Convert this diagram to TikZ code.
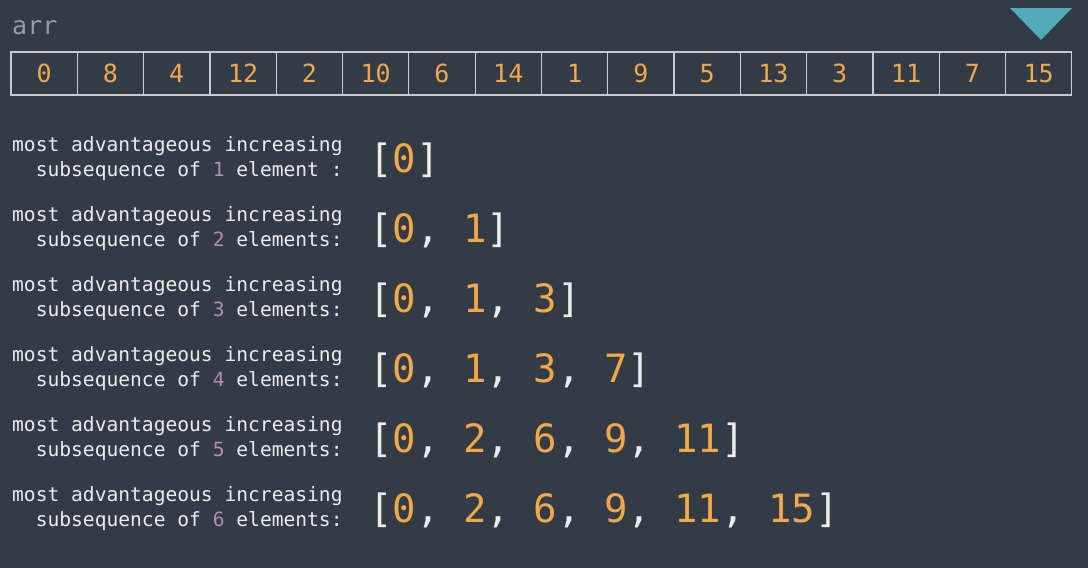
\documentclass[tikz,border=0pt]{standalone}
\usepackage{fontspec}
\setmonofont{DejaVu Sans Mono}
\usetikzlibrary{positioning}
\definecolor{bgslate}{RGB}{51,59,70}
\definecolor{numorange}{RGB}{240,168,72}
\definecolor{idxpurple}{RGB}{180,140,180}
\definecolor{textwhite}{RGB}{236,236,236}
\definecolor{cellgrey}{RGB}{200,202,208}
\definecolor{namegrey}{RGB}{150,156,166}
\definecolor{markteal}{RGB}{80,170,185}
\newcommand{\hl}[1]{\textcolor{idxpurple}{#1}}
\newcommand{\nm}[1]{\textcolor{numorange}{#1}}
\begin{document}
\begin{tikzpicture}[
  x=1pt, y=-1pt,
  cell/.style={draw=cellgrey, line width=1.2pt, minimum width=66.3pt, minimum height=43pt, inner sep=0pt, outer sep=0pt, text=numorange, font=\ttfamily\fontsize{25}{30}\selectfont},
  rowlabel/.style={anchor=base west, inner sep=0pt, align=right, text=textwhite, font=\ttfamily\fontsize{19.6}{25}\selectfont},
  seq/.style={anchor=base west, inner sep=0pt, text=textwhite, font=\ttfamily\fontsize{39}{44}\selectfont}
]
\fill[bgslate] (0,0) rectangle (1088,568);
\useasboundingbox (0,0) rectangle (1088,568);

\node[anchor=base west, inner sep=0pt, text=namegrey, font=\ttfamily\fontsize{25}{30}\selectfont] (name) at (12,34) {arr};

% the array
\node[cell, anchor=north west] (c0) at (11,52) {0};
\node[cell, right=0pt of c0] (c1) {8};
\node[cell, right=0pt of c1] (c2) {4};
\node[cell, right=0pt of c2] (c3) {12};
\node[cell, right=0pt of c3] (c4) {2};
\node[cell, right=0pt of c4] (c5) {10};
\node[cell, right=0pt of c5] (c6) {6};
\node[cell, right=0pt of c6] (c7) {14};
\node[cell, right=0pt of c7] (c8) {1};
\node[cell, right=0pt of c8] (c9) {9};
\node[cell, right=0pt of c9] (c10) {5};
\node[cell, right=0pt of c10] (c11) {13};
\node[cell, right=0pt of c11] (c12) {3};
\node[cell, right=0pt of c12] (c13) {11};
\node[cell, right=0pt of c13] (c14) {7};
\node[cell, right=0pt of c14] (c15) {15};

% pointer over the last cell
\fill[markteal] (1010,8) -- (1072,8) -- (1041,40) -- cycle;

% subsequences by length
\node[rowlabel] (lab1) at (12,176) {most advantageous increasing\\subsequence of \hl{1} element :};
\node[rowlabel] (lab2) at (12,246) {most advantageous increasing\\subsequence of \hl{2} elements:};
\node[rowlabel] (lab3) at (12,316) {most advantageous increasing\\subsequence of \hl{3} elements:};
\node[rowlabel] (lab4) at (12,386) {most advantageous increasing\\subsequence of \hl{4} elements:};
\node[rowlabel] (lab5) at (12,456) {most advantageous increasing\\subsequence of \hl{5} elements:};
\node[rowlabel] (lab6) at (12,526) {most advantageous increasing\\subsequence of \hl{6} elements:};

\node[seq] (seq1) at (369,172) {[\nm{0}]};
\node[seq] (seq2) at (369,242) {[\nm{0}, \nm{1}]};
\node[seq] (seq3) at (369,312) {[\nm{0}, \nm{1}, \nm{3}]};
\node[seq] (seq4) at (369,382) {[\nm{0}, \nm{1}, \nm{3}, \nm{7}]};
\node[seq] (seq5) at (369,452) {[\nm{0}, \nm{2}, \nm{6}, \nm{9}, \nm{11}]};
\node[seq] (seq6) at (369,522) {[\nm{0}, \nm{2}, \nm{6}, \nm{9}, \nm{11}, \nm{15}]};
\end{tikzpicture}
\end{document}
